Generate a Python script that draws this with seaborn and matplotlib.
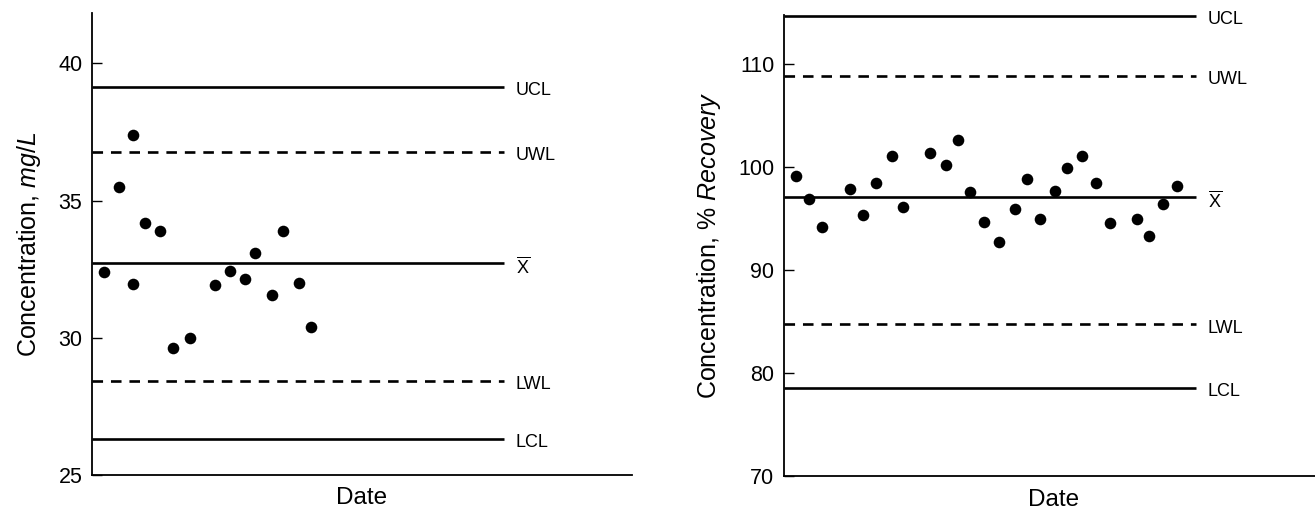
import pandas as pd
import seaborn as sns
import matplotlib.pyplot as plt

# left chart: concentration in mg/L, x = day of measurement
left_day = [0.88, 1.99, 3.05, 3.03, 3.90, 5.04, 5.97, 7.27, 9.13, 10.24,
            11.33, 12.10, 13.36, 14.15, 15.35, 16.19]
left_conc = [32.41, 35.51, 37.41, 31.96, 34.17, 33.89, 29.63, 29.98, 31.93, 32.42,
             32.13, 33.08, 31.55, 33.89, 32.00, 30.40]

# right chart: % recovery
right_day = [0.87, 1.83, 2.79, 4.88, 5.84, 6.83, 7.97, 8.81, 10.79, 12.00,
             12.91, 13.78, 14.83, 15.90, 17.13, 18.03, 18.96, 20.04, 20.93, 22.07,
             23.10, 24.14, 26.18, 27.04, 28.04, 29.11]
right_rec = [99.12, 96.88, 94.22, 97.86, 95.32, 98.47, 101.07, 96.10, 101.33, 100.23,
             102.63, 97.60, 94.71, 92.69, 95.91, 98.80, 94.94, 97.66, 99.94, 101.07,
             98.47, 94.61, 94.94, 93.34, 96.38, 98.15]

limit_names = ['UCL', 'UWL', 'xbar', 'LWL', 'LCL']
limit_text = ['UCL', 'UWL', r'$\overline{\mathrm{X}}$', 'LWL', 'LCL']
left_limits = [39.15, 36.77, 32.71, 28.42, 26.32]
right_limits = [114.71, 108.83, 97.11, 84.71, 78.54]
limit_styles = ['-', (0, (4, 3)), '-', (0, (4, 3)), '-']

left_ticks = [25, 30, 35, 40]
right_ticks = [70, 80, 90, 100, 110]

sns.set_style('ticks')
plt.rcParams['font.family'] = ['Liberation Sans', 'DejaVu Sans']
plt.rcParams['mathtext.fontset'] = 'custom'
plt.rcParams['mathtext.rm'] = 'Liberation Sans'
plt.rcParams['mathtext.it'] = 'Liberation Sans:italic'
plt.rcParams['text.color'] = 'black'
plt.rcParams['axes.labelcolor'] = 'black'
plt.rcParams['ytick.color'] = 'black'

W, H = 1315, 512
fig = plt.figure(figsize=(W / 100, H / 100), dpi=100)
ax_l = fig.add_axes([92 / W, 37 / H, 540 / W, 462 / H])
ax_r = fig.add_axes([784 / W, 36 / H, 540 / W, 461 / H])

line_end = 30.5


def draw_panel(ax, days, values, limits, ticks, ylim, ylabel):
    df = pd.DataFrame({'day': days, 'value': values})
    sns.scatterplot(df, x='day', y='value', ax=ax, color='black', s=70,
                    linewidth=0, zorder=3)
    for val, txt, ls in zip(limits, limit_text, limit_styles):
        ax.hlines(val, 0, line_end, colors='black', linewidth=1.9,
                  linestyles=[ls], clip_on=False)
        ax.text(line_end + 0.9, val - (ylim[1] - ylim[0]) * 0.008, txt,
                fontsize=13, va='center', ha='left', color='black')
    ax.set_xlim(0, 40)
    ax.set_ylim(*ylim)
    ax.set_yticks(ticks)
    ax.set_xticks([])
    ax.tick_params(axis='y', direction='in', length=7, width=1,
                   labelsize=15.5, pad=7, colors='black')
    ax.set_xlabel('Date', fontsize=17.5, labelpad=9)
    ax.set_ylabel(ylabel, fontsize=18, labelpad=11)
    for side in ['top', 'right']:
        ax.spines[side].set_visible(False)
    for side in ['left', 'bottom']:
        ax.spines[side].set_linewidth(1.3)
        ax.spines[side].set_color('black')


draw_panel(ax_l, left_day, left_conc, left_limits, left_ticks, (25, 41.84),
           r'Concentration, $\mathit{mg/L}$')
draw_panel(ax_r, right_day, right_rec, right_limits, right_ticks, (70, 114.76),
           r'Concentration, $\mathit{\%\ Recovery}$')

fig.savefig('out.png', dpi=100)
